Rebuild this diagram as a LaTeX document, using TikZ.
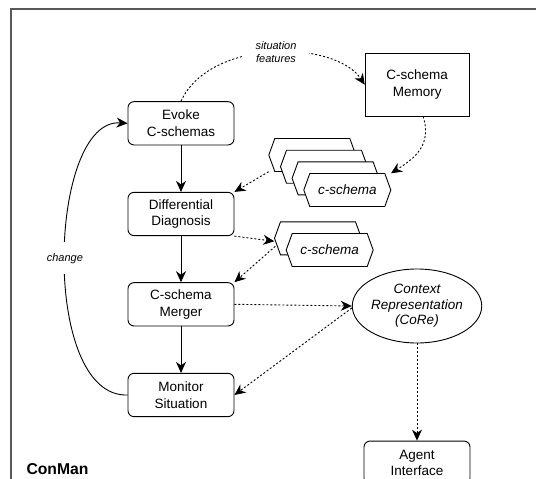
\documentclass[tikz,border=0pt]{standalone}
\usepackage{fontspec}
\setmainfont{Liberation Sans}
\usetikzlibrary{arrows.meta,shapes.geometric}
\begin{document}
\begin{tikzpicture}[x=1pt,y=-1pt,
  box/.style={draw, rounded corners=6pt, line width=0.9pt, minimum width=106pt, minimum height=43.3pt, inner sep=0pt, align=center, font=\fontsize{13.5}{16.5}\selectfont},
  membox/.style={draw, line width=0.9pt, minimum width=104pt, minimum height=62.7pt, inner sep=0pt, align=center, font=\fontsize{13.5}{16.5}\selectfont},
  corebox/.style={draw, ellipse, line width=0.9pt, minimum width=128pt, minimum height=74pt, inner sep=0pt, align=center, font=\fontsize{13.5}{15.5}\selectfont\itshape},
  hexnode/.style={minimum width=87pt, minimum height=33pt, inner sep=0pt, font=\fontsize{13.5}{16}\selectfont\itshape},
  flow/.style={-{Stealth[length=11pt,width=10pt,inset=3.5pt]}, line width=0.9pt},
  dflow/.style={flow, dash pattern=on 2pt off 2pt},
  lbl/.style={font=\fontsize{11}{13.5}\selectfont\itshape, fill=white, align=center},
  pics/hexa/.style={code={\draw[line width=0.9pt, fill=white] (-43.5,0) -- (-37.5,-16.5) -- (37.5,-16.5) -- (43.5,0) -- (37.5,16.5) -- (-37.5,16.5) -- cycle;}}
]
\useasboundingbox (0,0) rectangle (536,479);
\clip (0,0) rectangle (536,479);
\fill[white] (0,0) rectangle (536,479);
% frame
\draw[black!65, line width=1.3pt] (11,9) rectangle (620,600);
\node[font=\fontsize{15.7}{18}\selectfont\bfseries, anchor=west] (conman) at (23,469) {ConMan};

% main boxes
\node[box] (evoke) at (181,123.3) {Evoke\\C-schemas};
\node[box] (diff) at (181,214) {Differential\\Diagnosis};
\node[box] (merger) at (181,304.3) {C-schema\\Merger};
\node[box] (monitor) at (181,395) {Monitor\\Situation};
\node[membox] (mem) at (417.2,84.7) {C-schema\\Memory};
\node[corebox] (core) at (417,306) {Context\\Representation\\(CoRe)};
\node[box] (agent) at (417,462.7) {Agent\\Interface};

% hexagon stacks
\pic at (312.3,155) {hexa}; \node[hexnode] (hA) at (312.3,155) {};
\pic at (324,166.7) {hexa}; \node[hexnode] (hB) at (324,166.7) {};
\pic at (335.6,178.3) {hexa}; \node[hexnode] (hC) at (335.6,178.3) {};
\pic at (347.3,190) {hexa}; \node[hexnode] (hD) at (347.3,190) {c-schema};
\pic at (318,238.3) {hexa}; \node[hexnode] (hL1) at (318,238.3) {};
\pic at (329.7,250) {hexa}; \node[hexnode] (hL2) at (329.7,250) {c-schema};

% solid flow
\draw[flow] (evoke) -- (diff);
\draw[flow] (diff) -- (merger);
\draw[flow] (merger) -- (monitor);
\draw[flow] (monitor.west) .. controls (40,398) and (48,118) .. (evoke.west)
  node[pos=0.5, lbl, inner xsep=1pt, inner ysep=11pt] (chglbl) {change};

% dotted flows
\draw[dflow] (evoke.north) .. controls (210,38) and (335,40) .. (mem.west);
\node[lbl, inner xsep=13pt, inner ysep=2pt] (sitlbl) at (276,52) {situation\\features};
\draw[dflow] ([xshift=6pt]mem.south) .. controls (432,145) and (415,158) .. (hD.north east);
\draw[dflow] (hA.south west) -- (diff.north east);
\draw[dflow] (diff.south east) -- ([yshift=-3pt]hL1.west);
\draw[dflow] ([xshift=1pt,yshift=-8pt]hL1.west) -- (merger.north east);
\draw[dflow] (merger.east) -- (core.west);
\draw[dflow] ([yshift=-2pt]core.west) -- (monitor.east);
\draw[dflow] (core.south) -- (agent.north);
\end{tikzpicture}
\end{document}
